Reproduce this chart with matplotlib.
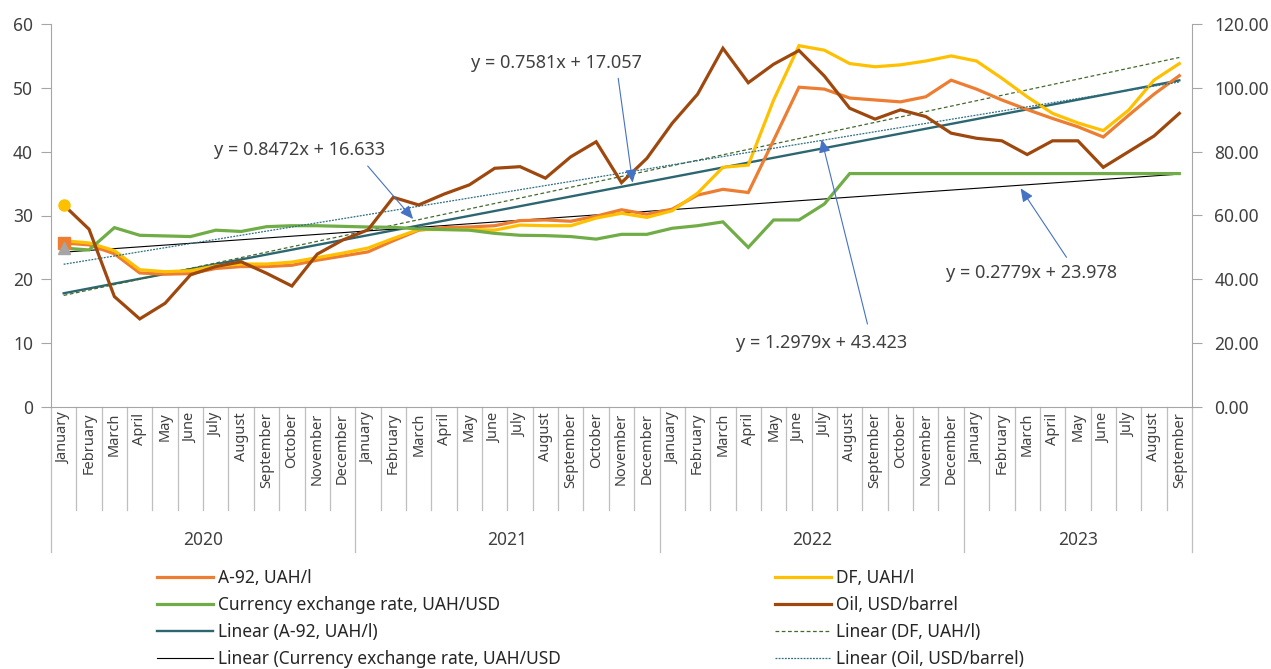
import matplotlib
matplotlib.use("Agg")
import matplotlib.pyplot as plt
from matplotlib.lines import Line2D
import numpy as np

plt.rcParams['font.family'] = ['Noto Sans', 'DejaVu Sans']

months = ["January", "February", "March", "April", "May", "June", "July",
          "August", "September", "October", "November", "December"]
years = ["2020", "2021", "2022", "2023"]
months_in_year = [12, 12, 12, 9]

a92 = [25.7, 25.4, 24.0, 21.0, 20.8, 20.9, 21.7, 22.0, 22.0, 22.2, 23.0, 23.65,
       24.3, 26.05, 27.7, 28.1, 28.2, 28.4, 29.2, 29.3, 29.1, 29.9, 30.9, 30.2,
       31.0, 33.2, 34.1, 33.6, 41.8, 50.1, 49.8, 48.4, 48.1, 47.8, 48.6, 51.2,
       49.8, 48.1, 46.6, 45.2, 43.9, 42.3, 45.7, 49.0, 51.9]
df = [26.05, 25.7, 24.5, 21.5, 21.2, 21.35, 22.1, 22.4, 22.4, 22.7, 23.4, 24.1,
      24.9, 26.4, 27.8, 27.8, 27.8, 27.7, 28.5, 28.4, 28.4, 29.6, 30.35, 29.7,
      30.75, 33.5, 37.55, 37.9, 48.1, 56.6, 55.9, 53.8, 53.3, 53.6, 54.2, 55.0,
      54.2, 51.5, 48.6, 46.0, 44.5, 43.3, 46.5, 51.2, 53.8]
currency = [24.9, 24.6, 28.1, 26.9, 26.8, 26.7, 27.7, 27.5, 28.25, 28.4, 28.4, 28.3,
            28.2, 28.15, 27.9, 27.8, 27.7, 27.2, 26.9, 26.85, 26.7, 26.3, 27.05, 27.05,
            28.0, 28.4, 29.0, 25.0, 29.3, 29.3, 31.8, 36.57, 36.57, 36.57, 36.57, 36.57,
            36.57, 36.57, 36.57, 36.57, 36.57, 36.57, 36.57, 36.57, 36.57]
oil = [63.3, 55.7, 34.6, 27.6, 32.5, 41.4, 44.0, 45.5, 41.9, 37.9, 47.9, 52.3,
       55.5, 65.7, 63.3, 66.7, 69.6, 74.8, 75.3, 71.7, 78.4, 83.1, 70.3, 77.9,
       88.9, 98.0, 112.4, 101.6, 107.4, 111.7, 103.7, 93.6, 90.2, 93.1, 91.0, 85.8,
       84.2, 83.4, 79.1, 83.4, 83.4, 75.1, 80.0, 84.9, 92.0]

# linear trend coefficients (slope, intercept), x = 1..n
trend_a92 = (0.7581, 17.057)
trend_df = (0.8472, 16.633)
trend_cur = (0.2779, 23.978)
trend_oil = (1.2979, 43.423)

C_A92 = "#ED7D31"
C_DF = "#FFC000"
C_CUR = "#70AD47"
C_OIL = "#9E480E"
C_TA92 = "#2C6670"
C_TDF = "#44692C"
C_TOIL = "#2C6E80"
C_ARROW = "#4472C4"
C_AXIS = "#A6A6A6"

W, H = 1271, 669
fig = plt.figure(figsize=(W / 100, H / 100), dpi=100)
L, R, T, B = 51, 1192, 24, 407
ax = fig.add_axes([L / W, 1 - B / H, (R - L) / W, (B - T) / H])
ax2 = ax.twinx()

n = len(a92)
x = np.arange(n)
xt = x + 1.0

def trend(c):
    return c[0] * xt + c[1]

# trend lines
ax.plot(x, trend(trend_a92), color=C_TA92, lw=1.7, zorder=3)
ax.plot(x, trend(trend_df), color=C_TDF, lw=0.9, ls=(0, (3, 2)), zorder=3)
ax.plot(x, trend(trend_cur), color="black", lw=0.8, zorder=3)
ax2.plot(x, trend(trend_oil), color=C_TOIL, lw=0.9, ls=(0, (1.5, 1)), zorder=3)

# series
ax.plot(x, a92, color=C_A92, lw=2.3, zorder=4, solid_joinstyle="miter")
ax.plot(x, df, color=C_DF, lw=2.3, zorder=4, solid_joinstyle="miter")
ax.plot(x, currency, color=C_CUR, lw=2.3, zorder=4, solid_joinstyle="miter")
ax2.plot(x, oil, color=C_OIL, lw=2.3, zorder=4, solid_joinstyle="miter")

# first-point markers
ax.plot([0], [a92[0]], marker="s", ms=8, color=C_A92, zorder=5)
ax.plot([0], [currency[0]], marker="^", ms=8, color="#A5A5A5", zorder=5)
ax2.plot([0], [oil[0]], marker="o", ms=8, color=C_DF, zorder=5)

ax.set_xlim(-0.5, n - 0.5)
ax.set_ylim(0, 60)
ax2.set_ylim(0, 120)
ax.set_yticks(np.arange(0, 61, 10))
ax2.set_yticks(np.arange(0, 121, 20))
ax2.set_yticklabels([f"{v:.2f}" for v in np.arange(0, 121, 20)])

for a in (ax, ax2):
    a.spines["top"].set_visible(False)
ax.spines["right"].set_visible(False)
ax2.spines["left"].set_visible(False)
ax2.spines["bottom"].set_visible(False)
ax.spines["left"].set_color(C_AXIS)
ax2.spines["right"].set_color(C_AXIS)
ax.spines["bottom"].set_color(C_AXIS)

ax.tick_params(axis="y", length=7, color=C_AXIS, labelsize=12.5, pad=6,
               labelcolor="#404040")
ax2.tick_params(axis="y", length=7, color=C_AXIS, labelsize=12.5, pad=9,
                labelcolor="#404040")

month_labels = []
for cnt in months_in_year:
    month_labels += months[:cnt]
ax.set_xticks(x)
ax.set_xticklabels(month_labels, rotation=90, fontsize=10.5, color="#404040")
ax.tick_params(axis="x", length=0, pad=4)

# category separators
trans = ax.get_xaxis_transform()
h_ax = B - T
month_bot = -(510 - B) / h_ax
year_bot = -(552 - B) / h_ax
bounds = np.cumsum([0] + months_in_year) - 0.5
for b in np.arange(-0.5, n, 1.0):
    is_year = np.any(np.isclose(b, bounds))
    ax.plot([b, b], [0, year_bot if is_year else month_bot], transform=trans,
            color="#BFBFBF", lw=0.9, clip_on=False, zorder=1)
year_y = -(540 - B) / h_ax
for i, yr in enumerate(years):
    ax.text((bounds[i] + bounds[i + 1]) / 2, year_y, yr, transform=trans,
            ha="center", va="center", fontsize=12.5, color="#404040")

# trend equation labels with arrows
def eq(c):
    return f"y = {c[0]}x + {c[1]}"

arrow = dict(arrowstyle="-|>,head_length=0.8,head_width=0.35", color=C_ARROW,
             lw=0.8, shrinkA=0, shrinkB=0)
labels = [
    (trend_df, (9.29, 40.26), (11.99, 37.76), (13.78, 29.45)),
    (trend_a92, (19.43, 53.94), (21.87, 51.5), (22.44, 35.14)),
    (trend_oil, (29.9, 9.98), (31.70, 13.0), (29.89, 41.94)),
    (trend_cur, (38.18, 20.95), (39.55, 23.45), (37.74, 34.26)),
]
for c, txy, sxy, axy in labels:
    ax2.text(txy[0], txy[1] * 2, eq(c), ha="center", va="center", fontsize=13,
             color="#404040", zorder=6)
    ax2.annotate("", xy=(axy[0], axy[1] * 2), xytext=(sxy[0], sxy[1] * 2),
                 arrowprops=arrow, zorder=6)

# legend in two columns
leg_kw = dict(frameon=False, fontsize=12.5, handlelength=3.2, handletextpad=0.3,
              labelspacing=0.52, borderpad=0, borderaxespad=0, loc="upper left")
h1 = [Line2D([], [], color=C_A92, lw=2.3), Line2D([], [], color=C_CUR, lw=2.3),
      Line2D([], [], color=C_TA92, lw=1.7), Line2D([], [], color="black", lw=0.8)]
l1 = ["A-92, UAH/l", "Currency exchange rate, UAH/USD", "Linear (A-92, UAH/l)",
      "Linear (Currency exchange rate, UAH/USD"]
h2 = [Line2D([], [], color=C_DF, lw=2.3), Line2D([], [], color=C_OIL, lw=2.3),
      Line2D([], [], color=C_TDF, lw=0.9, ls=(0, (3, 2))),
      Line2D([], [], color=C_TOIL, lw=0.9, ls=(0, (1.5, 1)))]
l2 = ["DF, UAH/l", "Oil, USD/barrel", "Linear (DF, UAH/l)", "Linear (Oil, USD/barrel)"]
leg1 = fig.legend(h1, l1, bbox_to_anchor=(157 / W, 1 - 569 / H), **leg_kw)
leg2 = fig.legend(h2, l2, bbox_to_anchor=(775 / W, 1 - 569 / H), **leg_kw)
for lg in (leg1, leg2):
    for t in lg.get_texts():
        t.set_color("#262626")

fig.savefig("out.png", dpi=100)
